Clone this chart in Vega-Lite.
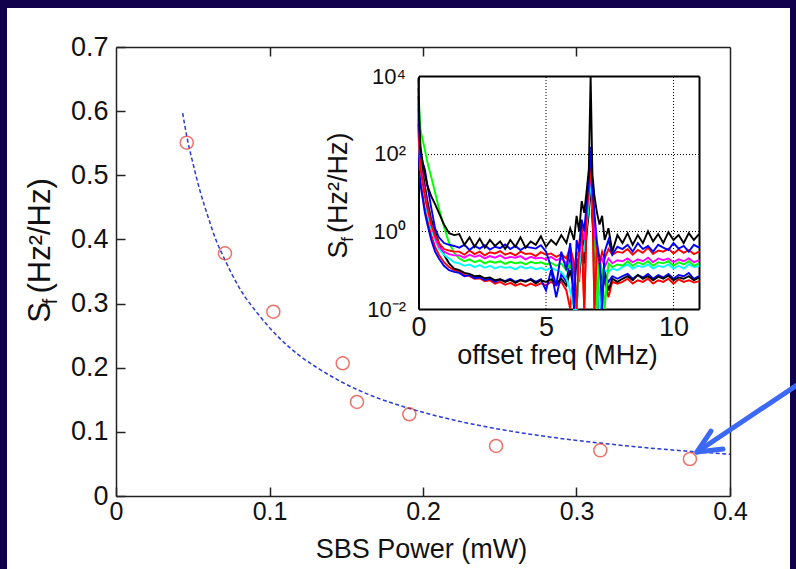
{
"$schema":"https://vega.github.io/schema/vega-lite/v6.json",
"width":783,"height":561,
"autosize":{"type":"none"},
"padding":{"left":7,"top":8,"right":6,"bottom":0},
"background":"#11004b",
"config":{"view":{"fill":"white","stroke":null},"axis":{"labelFlush":false,"labelOverlap":false,"grid":false,"labelColor":"#111","titleColor":"#111","titleFontWeight":"normal","labelFont":"Liberation Sans","titleFont":"Liberation Sans"}},
"datasets":{
"pts":[{"x":0.0461,"y":0.5508},{"x":0.071,"y":0.3784},{"x":0.1025,"y":0.2873},{"x":0.1477,"y":0.2069},{"x":0.157,"y":0.1466},{"x":0.1911,"y":0.1274},{"x":0.2476,"y":0.078},{"x":0.3155,"y":0.0712},{"x":0.3739,"y":0.0577}],
"fit":[{"x":0.04345,"y":0.597},{"x":0.046,"y":0.562},{"x":0.05,"y":0.52},{"x":0.0547,"y":0.476},{"x":0.06,"y":0.435},{"x":0.065,"y":0.4},{"x":0.071,"y":0.368},{"x":0.08,"y":0.326},{"x":0.0938,"y":0.28},{"x":0.107,"y":0.245},{"x":0.12,"y":0.218},{"x":0.133,"y":0.197},{"x":0.146,"y":0.179},{"x":0.1674,"y":0.1555},{"x":0.185,"y":0.141},{"x":0.2065,"y":0.1263},{"x":0.2287,"y":0.1138},{"x":0.2502,"y":0.1039},{"x":0.2717,"y":0.0957},{"x":0.2938,"y":0.0885},{"x":0.3153,"y":0.0826},{"x":0.3368,"y":0.0772},{"x":0.359,"y":0.0724},{"x":0.3805,"y":0.0684},{"x":0.4,"y":0.065}],
"arrow":[{"g":"shaft","o":1,"x":0.4456,"y":0.1762},{"g":"shaft","o":2,"x":0.3785,"y":0.0686},{"g":"head","o":1,"x":0.3876,"y":0.1013},{"g":"head","o":2,"x":0.3785,"y":0.0686},{"g":"head","o":3,"x":0.3954,"y":0.0733}],
"grid":[{"f":5},{"f":10}],
"spec":[
{"s":"r2","f":0,"v":800},{"s":"r2","f":0.03,"v":80},{"s":"r2","f":0.08,"v":20},{"s":"r2","f":0.15,"v":10},{"s":"r2","f":0.25,"v":4},{"s":"r2","f":0.35,"v":2},{"s":"r2","f":0.5,"v":0.8},{"s":"r2","f":0.65,"v":0.4},{"s":"r2","f":0.8,"v":0.25},{"s":"r2","f":1,"v":0.16},{"s":"r2","f":1.2,"v":0.12},{"s":"r2","f":1.4,"v":0.1},
{"s":"r2","f":1.6,"v":0.09},{"s":"r2","f":1.8,"v":0.075},{"s":"r2","f":2,"v":0.07},{"s":"r2","f":2.2,"v":0.06},{"s":"r2","f":2.4,"v":0.062},{"s":"r2","f":2.6,"v":0.052},{"s":"r2","f":2.8,"v":0.055},{"s":"r2","f":3,"v":0.045},{"s":"r2","f":3.2,"v":0.05},{"s":"r2","f":3.4,"v":0.042},{"s":"r2","f":3.6,"v":0.047},{"s":"r2","f":3.8,"v":0.04},{"s":"r2","f":4,"v":0.045},{"s":"r2","f":4.2,"v":0.039},{"s":"r2","f":4.4,"v":0.045},{"s":"r2","f":4.6,"v":0.04},{"s":"r2","f":4.8,"v":0.046},{"s":"r2","f":5,"v":0.041},{"s":"r2","f":5.2,"v":0.05},{"s":"r2","f":5.4,"v":0.04},{"s":"r2","f":5.6,"v":0.05},
{"s":"r2","f":5.8,"v":0.03},{"s":"r2","f":5.95,"v":0.01},{"s":"r2","f":6.1,"v":0.1},{"s":"r2","f":6.2,"v":0.2},{"s":"r2","f":6.3,"v":0.05},{"s":"r2","f":6.4,"v":0.6},{"s":"r2","f":6.5,"v":0.01},{"s":"r2","f":6.6,"v":2},{"s":"r2","f":6.68,"v":6},{"s":"r2","f":6.75,"v":40},{"s":"r2","f":6.82,"v":5},{"s":"r2","f":6.9,"v":0.01},{"s":"r2","f":7,"v":0.15},{"s":"r2","f":7.1,"v":0.01},{"s":"r2","f":7.2,"v":0.03},{"s":"r2","f":7.3,"v":0.06},{"s":"r2","f":7.45,"v":0.02},{"s":"r2","f":7.6,"v":0.05},{"s":"r2","f":7.8,"v":0.045},
{"s":"r2","f":8,"v":0.05},{"s":"r2","f":8.2,"v":0.06},{"s":"r2","f":8.4,"v":0.045},{"s":"r2","f":8.6,"v":0.055},{"s":"r2","f":8.8,"v":0.05},{"s":"r2","f":9,"v":0.06},{"s":"r2","f":9.2,"v":0.045},{"s":"r2","f":9.4,"v":0.055},{"s":"r2","f":9.6,"v":0.05},{"s":"r2","f":9.8,"v":0.06},{"s":"r2","f":10,"v":0.045},{"s":"r2","f":10.2,"v":0.058},{"s":"r2","f":10.4,"v":0.05},{"s":"r2","f":10.6,"v":0.055},{"s":"r2","f":10.8,"v":0.048},{"s":"r2","f":11,"v":0.052},
{"s":"b2","f":0,"v":600},{"s":"b2","f":0.03,"v":60},{"s":"b2","f":0.08,"v":15},{"s":"b2","f":0.15,"v":8},{"s":"b2","f":0.25,"v":3},{"s":"b2","f":0.35,"v":1.5},{"s":"b2","f":0.5,"v":0.6},{"s":"b2","f":0.65,"v":0.3},{"s":"b2","f":0.8,"v":0.2},{"s":"b2","f":1,"v":0.13},{"s":"b2","f":1.2,"v":0.1},{"s":"b2","f":1.4,"v":0.09},
{"s":"b2","f":1.6,"v":0.085},{"s":"b2","f":1.8,"v":0.07},{"s":"b2","f":2,"v":0.075},{"s":"b2","f":2.2,"v":0.062},{"s":"b2","f":2.4,"v":0.065},{"s":"b2","f":2.6,"v":0.056},{"s":"b2","f":2.8,"v":0.06},{"s":"b2","f":3,"v":0.05},{"s":"b2","f":3.2,"v":0.058},{"s":"b2","f":3.4,"v":0.052},{"s":"b2","f":3.6,"v":0.06},{"s":"b2","f":3.8,"v":0.05},{"s":"b2","f":4,"v":0.057},{"s":"b2","f":4.2,"v":0.052},{"s":"b2","f":4.4,"v":0.06},{"s":"b2","f":4.6,"v":0.05},{"s":"b2","f":4.8,"v":0.058},{"s":"b2","f":5,"v":0.03},{"s":"b2","f":5.2,"v":0.1},{"s":"b2","f":5.4,"v":0.02},{"s":"b2","f":5.6,"v":0.08},
{"s":"b2","f":5.8,"v":0.05},{"s":"b2","f":5.95,"v":0.2},{"s":"b2","f":6.1,"v":0.04},{"s":"b2","f":6.2,"v":0.01},{"s":"b2","f":6.3,"v":0.15},{"s":"b2","f":6.4,"v":0.8},{"s":"b2","f":6.5,"v":0.4},{"s":"b2","f":6.6,"v":3},{"s":"b2","f":6.68,"v":8},{"s":"b2","f":6.75,"v":100},{"s":"b2","f":6.82,"v":6},{"s":"b2","f":6.9,"v":0.5},{"s":"b2","f":7,"v":0.1},{"s":"b2","f":7.1,"v":0.01},{"s":"b2","f":7.2,"v":0.02},{"s":"b2","f":7.3,"v":0.08},{"s":"b2","f":7.45,"v":0.05},{"s":"b2","f":7.6,"v":0.07},{"s":"b2","f":7.8,"v":0.06},
{"s":"b2","f":8,"v":0.07},{"s":"b2","f":8.2,"v":0.08},{"s":"b2","f":8.4,"v":0.06},{"s":"b2","f":8.6,"v":0.075},{"s":"b2","f":8.8,"v":0.065},{"s":"b2","f":9,"v":0.08},{"s":"b2","f":9.2,"v":0.06},{"s":"b2","f":9.4,"v":0.075},{"s":"b2","f":9.6,"v":0.065},{"s":"b2","f":9.8,"v":0.08},{"s":"b2","f":10,"v":0.06},{"s":"b2","f":10.2,"v":0.075},{"s":"b2","f":10.4,"v":0.07},{"s":"b2","f":10.6,"v":0.085},{"s":"b2","f":10.8,"v":0.06},{"s":"b2","f":11,"v":0.07},
{"s":"k2","f":0,"v":5000},{"s":"k2","f":0.03,"v":500},{"s":"k2","f":0.08,"v":80},{"s":"k2","f":0.15,"v":40},{"s":"k2","f":0.25,"v":15},{"s":"k2","f":0.35,"v":6},{"s":"k2","f":0.5,"v":2},{"s":"k2","f":0.65,"v":1},{"s":"k2","f":0.8,"v":0.5},{"s":"k2","f":1,"v":0.25},{"s":"k2","f":1.2,"v":0.15},{"s":"k2","f":1.4,"v":0.11},
{"s":"k2","f":1.6,"v":0.1},{"s":"k2","f":1.8,"v":0.085},{"s":"k2","f":2,"v":0.08},{"s":"k2","f":2.2,"v":0.07},{"s":"k2","f":2.4,"v":0.072},{"s":"k2","f":2.6,"v":0.062},{"s":"k2","f":2.8,"v":0.065},{"s":"k2","f":3,"v":0.055},{"s":"k2","f":3.2,"v":0.058},{"s":"k2","f":3.4,"v":0.05},{"s":"k2","f":3.6,"v":0.056},{"s":"k2","f":3.8,"v":0.047},{"s":"k2","f":4,"v":0.055},{"s":"k2","f":4.2,"v":0.05},{"s":"k2","f":4.4,"v":0.057},{"s":"k2","f":4.6,"v":0.046},{"s":"k2","f":4.8,"v":0.055},{"s":"k2","f":5,"v":0.05},{"s":"k2","f":5.2,"v":0.058},{"s":"k2","f":5.4,"v":0.045},{"s":"k2","f":5.6,"v":0.06},
{"s":"k2","f":5.8,"v":0.04},{"s":"k2","f":5.95,"v":0.1},{"s":"k2","f":6.1,"v":0.03},{"s":"k2","f":6.2,"v":0.2},{"s":"k2","f":6.3,"v":0.08},{"s":"k2","f":6.4,"v":0.4},{"s":"k2","f":6.5,"v":0.15},{"s":"k2","f":6.6,"v":1},{"s":"k2","f":6.68,"v":3},{"s":"k2","f":6.75,"v":20},{"s":"k2","f":6.82,"v":2},{"s":"k2","f":6.9,"v":0.3},{"s":"k2","f":7,"v":0.08},{"s":"k2","f":7.1,"v":0.15},{"s":"k2","f":7.2,"v":0.04},{"s":"k2","f":7.3,"v":0.1},{"s":"k2","f":7.45,"v":0.03},{"s":"k2","f":7.6,"v":0.06},{"s":"k2","f":7.8,"v":0.05},
{"s":"k2","f":8,"v":0.06},{"s":"k2","f":8.2,"v":0.07},{"s":"k2","f":8.4,"v":0.055},{"s":"k2","f":8.6,"v":0.075},{"s":"k2","f":8.8,"v":0.06},{"s":"k2","f":9,"v":0.07},{"s":"k2","f":9.2,"v":0.055},{"s":"k2","f":9.4,"v":0.068},{"s":"k2","f":9.6,"v":0.06},{"s":"k2","f":9.8,"v":0.072},{"s":"k2","f":10,"v":0.055},{"s":"k2","f":10.2,"v":0.065},{"s":"k2","f":10.4,"v":0.06},{"s":"k2","f":10.6,"v":0.07},{"s":"k2","f":10.8,"v":0.055},{"s":"k2","f":11,"v":0.065},
{"s":"c1","f":0,"v":1000},{"s":"c1","f":0.03,"v":150},{"s":"c1","f":0.08,"v":40},{"s":"c1","f":0.15,"v":20},{"s":"c1","f":0.25,"v":8},{"s":"c1","f":0.35,"v":3},{"s":"c1","f":0.5,"v":1.2},{"s":"c1","f":0.65,"v":0.6},{"s":"c1","f":0.8,"v":0.35},{"s":"c1","f":1,"v":0.25},{"s":"c1","f":1.2,"v":0.2},{"s":"c1","f":1.4,"v":0.16},
{"s":"c1","f":1.6,"v":0.15},{"s":"c1","f":1.8,"v":0.13},{"s":"c1","f":2,"v":0.14},{"s":"c1","f":2.2,"v":0.12},{"s":"c1","f":2.4,"v":0.135},{"s":"c1","f":2.6,"v":0.115},{"s":"c1","f":2.8,"v":0.13},{"s":"c1","f":3,"v":0.11},{"s":"c1","f":3.2,"v":0.125},{"s":"c1","f":3.4,"v":0.115},{"s":"c1","f":3.6,"v":0.12},{"s":"c1","f":3.8,"v":0.105},{"s":"c1","f":4,"v":0.125},{"s":"c1","f":4.2,"v":0.11},{"s":"c1","f":4.4,"v":0.12},{"s":"c1","f":4.6,"v":0.105},{"s":"c1","f":4.8,"v":0.115},{"s":"c1","f":5,"v":0.1},{"s":"c1","f":5.2,"v":0.115},{"s":"c1","f":5.4,"v":0.1},{"s":"c1","f":5.6,"v":0.09},
{"s":"c1","f":5.8,"v":0.06},{"s":"c1","f":5.95,"v":0.03},{"s":"c1","f":6.1,"v":0.01},{"s":"c1","f":6.2,"v":0.01},{"s":"c1","f":6.3,"v":0.1},{"s":"c1","f":6.4,"v":0.5},{"s":"c1","f":6.5,"v":0.3},{"s":"c1","f":6.6,"v":1.5},{"s":"c1","f":6.68,"v":5},{"s":"c1","f":6.75,"v":30},{"s":"c1","f":6.82,"v":4},{"s":"c1","f":6.9,"v":0.5},{"s":"c1","f":7,"v":0.2},{"s":"c1","f":7.1,"v":0.01},{"s":"c1","f":7.2,"v":0.05},{"s":"c1","f":7.3,"v":0.1},{"s":"c1","f":7.45,"v":0.09},{"s":"c1","f":7.6,"v":0.11},{"s":"c1","f":7.8,"v":0.1},
{"s":"c1","f":8,"v":0.12},{"s":"c1","f":8.2,"v":0.14},{"s":"c1","f":8.4,"v":0.11},{"s":"c1","f":8.6,"v":0.13},{"s":"c1","f":8.8,"v":0.12},{"s":"c1","f":9,"v":0.14},{"s":"c1","f":9.2,"v":0.11},{"s":"c1","f":9.4,"v":0.13},{"s":"c1","f":9.6,"v":0.12},{"s":"c1","f":9.8,"v":0.14},{"s":"c1","f":10,"v":0.11},{"s":"c1","f":10.2,"v":0.13},{"s":"c1","f":10.4,"v":0.11},{"s":"c1","f":10.6,"v":0.14},{"s":"c1","f":10.8,"v":0.12},{"s":"c1","f":11,"v":0.13},
{"s":"g1","f":0,"v":8000},{"s":"g1","f":0.03,"v":1500},{"s":"g1","f":0.08,"v":400},{"s":"g1","f":0.15,"v":250},{"s":"g1","f":0.25,"v":125},{"s":"g1","f":0.35,"v":60},{"s":"g1","f":0.5,"v":25},{"s":"g1","f":0.65,"v":10},{"s":"g1","f":0.8,"v":4},{"s":"g1","f":1,"v":1.3},{"s":"g1","f":1.2,"v":0.5},{"s":"g1","f":1.4,"v":0.28},
{"s":"g1","f":1.6,"v":0.2},{"s":"g1","f":1.8,"v":0.17},{"s":"g1","f":2,"v":0.19},{"s":"g1","f":2.2,"v":0.16},{"s":"g1","f":2.4,"v":0.18},{"s":"g1","f":2.6,"v":0.15},{"s":"g1","f":2.8,"v":0.17},{"s":"g1","f":3,"v":0.155},{"s":"g1","f":3.2,"v":0.17},{"s":"g1","f":3.4,"v":0.145},{"s":"g1","f":3.6,"v":0.165},{"s":"g1","f":3.8,"v":0.15},{"s":"g1","f":4,"v":0.16},{"s":"g1","f":4.2,"v":0.14},{"s":"g1","f":4.4,"v":0.165},{"s":"g1","f":4.6,"v":0.15},{"s":"g1","f":4.8,"v":0.16},{"s":"g1","f":5,"v":0.14},{"s":"g1","f":5.2,"v":0.155},{"s":"g1","f":5.4,"v":0.13},{"s":"g1","f":5.6,"v":0.15},
{"s":"g1","f":5.8,"v":0.1},{"s":"g1","f":5.95,"v":0.15},{"s":"g1","f":6.1,"v":0.05},{"s":"g1","f":6.2,"v":0.01},{"s":"g1","f":6.3,"v":0.3},{"s":"g1","f":6.4,"v":0.8},{"s":"g1","f":6.5,"v":1.5},{"s":"g1","f":6.6,"v":2},{"s":"g1","f":6.68,"v":8},{"s":"g1","f":6.75,"v":80},{"s":"g1","f":6.82,"v":10},{"s":"g1","f":6.9,"v":1},{"s":"g1","f":7,"v":0.01},{"s":"g1","f":7.1,"v":0.2},{"s":"g1","f":7.2,"v":0.1},{"s":"g1","f":7.3,"v":0.01},{"s":"g1","f":7.45,"v":0.15},{"s":"g1","f":7.6,"v":0.12},{"s":"g1","f":7.8,"v":0.14},
{"s":"g1","f":8,"v":0.13},{"s":"g1","f":8.2,"v":0.17},{"s":"g1","f":8.4,"v":0.13},{"s":"g1","f":8.6,"v":0.16},{"s":"g1","f":8.8,"v":0.14},{"s":"g1","f":9,"v":0.17},{"s":"g1","f":9.2,"v":0.13},{"s":"g1","f":9.4,"v":0.16},{"s":"g1","f":9.6,"v":0.15},{"s":"g1","f":9.8,"v":0.17},{"s":"g1","f":10,"v":0.13},{"s":"g1","f":10.2,"v":0.16},{"s":"g1","f":10.4,"v":0.14},{"s":"g1","f":10.6,"v":0.17},{"s":"g1","f":10.8,"v":0.13},{"s":"g1","f":11,"v":0.15},
{"s":"m1","f":0,"v":2000},{"s":"m1","f":0.03,"v":200},{"s":"m1","f":0.08,"v":50},{"s":"m1","f":0.15,"v":25},{"s":"m1","f":0.25,"v":10},{"s":"m1","f":0.35,"v":4},{"s":"m1","f":0.5,"v":1.5},{"s":"m1","f":0.65,"v":0.7},{"s":"m1","f":0.8,"v":0.4},{"s":"m1","f":1,"v":0.3},{"s":"m1","f":1.2,"v":0.26},{"s":"m1","f":1.4,"v":0.24},
{"s":"m1","f":1.6,"v":0.24},{"s":"m1","f":1.8,"v":0.21},{"s":"m1","f":2,"v":0.25},{"s":"m1","f":2.2,"v":0.22},{"s":"m1","f":2.4,"v":0.24},{"s":"m1","f":2.6,"v":0.2},{"s":"m1","f":2.8,"v":0.23},{"s":"m1","f":3,"v":0.21},{"s":"m1","f":3.2,"v":0.24},{"s":"m1","f":3.4,"v":0.2},{"s":"m1","f":3.6,"v":0.22},{"s":"m1","f":3.8,"v":0.21},{"s":"m1","f":4,"v":0.23},{"s":"m1","f":4.2,"v":0.19},{"s":"m1","f":4.4,"v":0.22},{"s":"m1","f":4.6,"v":0.2},{"s":"m1","f":4.8,"v":0.21},{"s":"m1","f":5,"v":0.19},{"s":"m1","f":5.2,"v":0.22},{"s":"m1","f":5.4,"v":0.18},{"s":"m1","f":5.6,"v":0.2},
{"s":"m1","f":5.8,"v":0.15},{"s":"m1","f":5.95,"v":0.25},{"s":"m1","f":6.1,"v":0.1},{"s":"m1","f":6.2,"v":0.3},{"s":"m1","f":6.3,"v":0.2},{"s":"m1","f":6.4,"v":1.2},{"s":"m1","f":6.5,"v":0.6},{"s":"m1","f":6.6,"v":3},{"s":"m1","f":6.68,"v":10},{"s":"m1","f":6.75,"v":50},{"s":"m1","f":6.82,"v":6},{"s":"m1","f":6.9,"v":1},{"s":"m1","f":7,"v":0.3},{"s":"m1","f":7.1,"v":0.15},{"s":"m1","f":7.2,"v":0.2},{"s":"m1","f":7.3,"v":0.12},{"s":"m1","f":7.45,"v":0.2},{"s":"m1","f":7.6,"v":0.15},{"s":"m1","f":7.8,"v":0.18},
{"s":"m1","f":8,"v":0.17},{"s":"m1","f":8.2,"v":0.2},{"s":"m1","f":8.4,"v":0.16},{"s":"m1","f":8.6,"v":0.19},{"s":"m1","f":8.8,"v":0.17},{"s":"m1","f":9,"v":0.21},{"s":"m1","f":9.2,"v":0.16},{"s":"m1","f":9.4,"v":0.2},{"s":"m1","f":9.6,"v":0.18},{"s":"m1","f":9.8,"v":0.2},{"s":"m1","f":10,"v":0.16},{"s":"m1","f":10.2,"v":0.19},{"s":"m1","f":10.4,"v":0.17},{"s":"m1","f":10.6,"v":0.2},{"s":"m1","f":10.8,"v":0.16},{"s":"m1","f":11,"v":0.18},
{"s":"r1","f":0,"v":1500},{"s":"r1","f":0.03,"v":150},{"s":"r1","f":0.08,"v":40},{"s":"r1","f":0.15,"v":20},{"s":"r1","f":0.25,"v":8},{"s":"r1","f":0.35,"v":4},{"s":"r1","f":0.5,"v":1.5},{"s":"r1","f":0.65,"v":0.8},{"s":"r1","f":0.8,"v":0.5},{"s":"r1","f":1,"v":0.35},{"s":"r1","f":1.2,"v":0.32},{"s":"r1","f":1.4,"v":0.3},
{"s":"r1","f":1.6,"v":0.3},{"s":"r1","f":1.8,"v":0.25},{"s":"r1","f":2,"v":0.32},{"s":"r1","f":2.2,"v":0.26},{"s":"r1","f":2.4,"v":0.3},{"s":"r1","f":2.6,"v":0.24},{"s":"r1","f":2.8,"v":0.29},{"s":"r1","f":3,"v":0.27},{"s":"r1","f":3.2,"v":0.31},{"s":"r1","f":3.4,"v":0.25},{"s":"r1","f":3.6,"v":0.28},{"s":"r1","f":3.8,"v":0.24},{"s":"r1","f":4,"v":0.3},{"s":"r1","f":4.2,"v":0.26},{"s":"r1","f":4.4,"v":0.27},{"s":"r1","f":4.6,"v":0.23},{"s":"r1","f":4.8,"v":0.29},{"s":"r1","f":5,"v":0.25},{"s":"r1","f":5.2,"v":0.27},{"s":"r1","f":5.4,"v":0.22},{"s":"r1","f":5.6,"v":0.26},
{"s":"r1","f":5.8,"v":0.2},{"s":"r1","f":5.95,"v":0.4},{"s":"r1","f":6.1,"v":0.15},{"s":"r1","f":6.2,"v":0.01},{"s":"r1","f":6.3,"v":0.5},{"s":"r1","f":6.4,"v":1.5},{"s":"r1","f":6.5,"v":0.01},{"s":"r1","f":6.6,"v":4},{"s":"r1","f":6.68,"v":12},{"s":"r1","f":6.75,"v":60},{"s":"r1","f":6.82,"v":8},{"s":"r1","f":6.9,"v":0.01},{"s":"r1","f":7,"v":0.4},{"s":"r1","f":7.1,"v":0.15},{"s":"r1","f":7.2,"v":0.3},{"s":"r1","f":7.3,"v":0.2},{"s":"r1","f":7.45,"v":0.35},{"s":"r1","f":7.6,"v":0.25},{"s":"r1","f":7.8,"v":0.3},
{"s":"r1","f":8,"v":0.28},{"s":"r1","f":8.2,"v":0.35},{"s":"r1","f":8.4,"v":0.25},{"s":"r1","f":8.6,"v":0.33},{"s":"r1","f":8.8,"v":0.28},{"s":"r1","f":9,"v":0.38},{"s":"r1","f":9.2,"v":0.26},{"s":"r1","f":9.4,"v":0.32},{"s":"r1","f":9.6,"v":0.3},{"s":"r1","f":9.8,"v":0.36},{"s":"r1","f":10,"v":0.27},{"s":"r1","f":10.2,"v":0.34},{"s":"r1","f":10.4,"v":0.28},{"s":"r1","f":10.6,"v":0.33},{"s":"r1","f":10.8,"v":0.26},{"s":"r1","f":11,"v":0.3},
{"s":"b1","f":0,"v":3000},{"s":"b1","f":0.03,"v":400},{"s":"b1","f":0.08,"v":100},{"s":"b1","f":0.15,"v":60},{"s":"b1","f":0.25,"v":40},{"s":"b1","f":0.35,"v":15},{"s":"b1","f":0.5,"v":4},{"s":"b1","f":0.65,"v":1.2},{"s":"b1","f":0.8,"v":0.7},{"s":"b1","f":1,"v":0.5},{"s":"b1","f":1.2,"v":0.45},{"s":"b1","f":1.4,"v":0.42},
{"s":"b1","f":1.6,"v":0.38},{"s":"b1","f":1.8,"v":0.45},{"s":"b1","f":2,"v":0.33},{"s":"b1","f":2.2,"v":0.42},{"s":"b1","f":2.4,"v":0.36},{"s":"b1","f":2.6,"v":0.44},{"s":"b1","f":2.8,"v":0.34},{"s":"b1","f":3,"v":0.4},{"s":"b1","f":3.2,"v":0.37},{"s":"b1","f":3.4,"v":0.46},{"s":"b1","f":3.6,"v":0.35},{"s":"b1","f":3.8,"v":0.42},{"s":"b1","f":4,"v":0.33},{"s":"b1","f":4.2,"v":0.4},{"s":"b1","f":4.4,"v":0.38},{"s":"b1","f":4.6,"v":0.36},{"s":"b1","f":4.8,"v":0.44},{"s":"b1","f":5,"v":0.3},{"s":"b1","f":5.2,"v":0.12},{"s":"b1","f":5.4,"v":0.04},{"s":"b1","f":5.6,"v":0.3},
{"s":"b1","f":5.8,"v":0.1},{"s":"b1","f":5.95,"v":0.5},{"s":"b1","f":6.1,"v":0.01},{"s":"b1","f":6.2,"v":0.6},{"s":"b1","f":6.3,"v":0.3},{"s":"b1","f":6.4,"v":2},{"s":"b1","f":6.5,"v":1},{"s":"b1","f":6.6,"v":6},{"s":"b1","f":6.68,"v":20},{"s":"b1","f":6.75,"v":150},{"s":"b1","f":6.82,"v":15},{"s":"b1","f":6.9,"v":3},{"s":"b1","f":7,"v":0.5},{"s":"b1","f":7.1,"v":0.2},{"s":"b1","f":7.2,"v":0.01},{"s":"b1","f":7.3,"v":0.3},{"s":"b1","f":7.45,"v":0.6},{"s":"b1","f":7.6,"v":0.25},{"s":"b1","f":7.8,"v":0.4},
{"s":"b1","f":8,"v":0.35},{"s":"b1","f":8.2,"v":0.45},{"s":"b1","f":8.4,"v":0.3},{"s":"b1","f":8.6,"v":0.5},{"s":"b1","f":8.8,"v":0.35},{"s":"b1","f":9,"v":0.42},{"s":"b1","f":9.2,"v":0.3},{"s":"b1","f":9.4,"v":0.45},{"s":"b1","f":9.6,"v":0.38},{"s":"b1","f":9.8,"v":0.33},{"s":"b1","f":10,"v":0.5},{"s":"b1","f":10.2,"v":0.36},{"s":"b1","f":10.4,"v":0.42},{"s":"b1","f":10.6,"v":0.3},{"s":"b1","f":10.8,"v":0.45},{"s":"b1","f":11,"v":0.38},
{"s":"k1","f":0,"v":9000},{"s":"k1","f":0.03,"v":800},{"s":"k1","f":0.08,"v":150},{"s":"k1","f":0.15,"v":70},{"s":"k1","f":0.25,"v":30},{"s":"k1","f":0.35,"v":15},{"s":"k1","f":0.5,"v":8},{"s":"k1","f":0.65,"v":5},{"s":"k1","f":0.8,"v":3},{"s":"k1","f":1,"v":1.5},{"s":"k1","f":1.2,"v":0.9},{"s":"k1","f":1.4,"v":0.8},
{"s":"k1","f":1.6,"v":0.85},{"s":"k1","f":1.8,"v":0.45},{"s":"k1","f":2,"v":0.7},{"s":"k1","f":2.2,"v":0.4},{"s":"k1","f":2.4,"v":0.65},{"s":"k1","f":2.6,"v":0.38},{"s":"k1","f":2.8,"v":0.6},{"s":"k1","f":3,"v":0.42},{"s":"k1","f":3.2,"v":0.55},{"s":"k1","f":3.4,"v":0.35},{"s":"k1","f":3.6,"v":0.6},{"s":"k1","f":3.8,"v":0.4},{"s":"k1","f":4,"v":0.7},{"s":"k1","f":4.2,"v":0.38},{"s":"k1","f":4.4,"v":0.55},{"s":"k1","f":4.6,"v":0.45},{"s":"k1","f":4.8,"v":0.75},{"s":"k1","f":5,"v":0.4},{"s":"k1","f":5.2,"v":0.6},{"s":"k1","f":5.4,"v":0.45},{"s":"k1","f":5.6,"v":0.8},
{"s":"k1","f":5.8,"v":0.5},{"s":"k1","f":5.95,"v":1.2},{"s":"k1","f":6.1,"v":0.6},{"s":"k1","f":6.2,"v":2.5},{"s":"k1","f":6.3,"v":1},{"s":"k1","f":6.4,"v":6},{"s":"k1","f":6.5,"v":3},{"s":"k1","f":6.6,"v":12},{"s":"k1","f":6.68,"v":40},{"s":"k1","f":6.75,"v":10000},{"s":"k1","f":6.82,"v":30},{"s":"k1","f":6.9,"v":8},{"s":"k1","f":7,"v":3},{"s":"k1","f":7.1,"v":1.5},{"s":"k1","f":7.2,"v":2.5},{"s":"k1","f":7.3,"v":0.6},{"s":"k1","f":7.45,"v":1.2},{"s":"k1","f":7.6,"v":0.3},{"s":"k1","f":7.8,"v":0.8},
{"s":"k1","f":8,"v":0.5},{"s":"k1","f":8.2,"v":0.9},{"s":"k1","f":8.4,"v":0.45},{"s":"k1","f":8.6,"v":0.8},{"s":"k1","f":8.8,"v":0.5},{"s":"k1","f":9,"v":1},{"s":"k1","f":9.2,"v":0.55},{"s":"k1","f":9.4,"v":0.85},{"s":"k1","f":9.6,"v":0.5},{"s":"k1","f":9.8,"v":0.95},{"s":"k1","f":10,"v":0.6},{"s":"k1","f":10.2,"v":0.8},{"s":"k1","f":10.4,"v":0.5},{"s":"k1","f":10.6,"v":0.9},{"s":"k1","f":10.8,"v":0.6},{"s":"k1","f":11,"v":0.85}
]},
"layer":[
{"data":{"name":"fit"},
 "mark":{"type":"line","color":"#2a3bd8","strokeWidth":1.5,"strokeDash":[4,2.5],"interpolate":"monotone"},
 "encoding":{
  "x":{"field":"x","type":"quantitative","scale":{"domain":[0,0.4],"range":[109,723],"nice":false,"zero":false},
   "axis":{"orient":"bottom","offset":-73,"values":[0,0.1,0.2,0.3,0.4],"labelExpr":"datum.value==0?'0':format(datum.value,'.1f')","tickSize":-9,"labelPadding":12,"labelFontSize":25,"domainColor":"#222","domainWidth":1.5,"tickColor":"#222","tickWidth":1.5,"title":"SBS Power (mW)","titleFontSize":27,"titleX":414,"titleY":53,"titleBaseline":"middle","titleAlign":"center"}},
  "y":{"field":"y","type":"quantitative","scale":{"domain":[0,0.7],"range":[488,39],"nice":false,"zero":false},
   "axis":{"orient":"left","offset":-109,"values":[0,0.1,0.2,0.3,0.4,0.5,0.6,0.7],"labelExpr":"datum.value==0?'0':format(datum.value,'.1f')","tickSize":-9,"labelPadding":17,"labelFontSize":27,"domainColor":"#222","domainWidth":1.5,"tickColor":"#222","tickWidth":1.5,"title":"S  (Hz²/Hz)","titleFontSize":31,"titleAngle":270,"titleX":-76,"titleY":242,"titleBaseline":"middle","titleAlign":"center"}}
 }},
{"data":{"name":"pts"},
 "mark":{"type":"point","shape":"circle","filled":false,"size":170,"strokeWidth":1.5,"color":"#e6392c"},
 "encoding":{
  "x":{"field":"x","type":"quantitative","scale":{"domain":[0,0.4],"range":[109,723],"nice":false,"zero":false},"axis":null},
  "y":{"field":"y","type":"quantitative","scale":{"domain":[0,0.7],"range":[488,39],"nice":false,"zero":false},
   "axis":{"orient":"left","offset":0,"domain":false,"ticks":false,"labels":false,"title":"f","titleFontSize":20,"titleAngle":270,"titleX":43,"titleY":293,"titleBaseline":"middle","titleAlign":"center"}}
 }},
{"data":{"name":"arrow"},
 "mark":{"type":"line","color":"#3b68f4","strokeWidth":5,"strokeCap":"round","strokeJoin":"round"},
 "encoding":{
  "x":{"field":"x","type":"quantitative","scale":{"domain":[0,0.4],"range":[109,723],"nice":false,"zero":false},"axis":null},
  "y":{"field":"y","type":"quantitative","scale":{"domain":[0,0.7],"range":[488,39],"nice":false,"zero":false},
   "axis":{"orient":"left","offset":0,"domain":false,"ticks":false,"labels":false,"title":"f","titleFontSize":17,"titleAngle":270,"titleX":340,"titleY":231,"titleBaseline":"middle","titleAlign":"center"}},
  "detail":{"field":"g"},
  "order":{"field":"o","type":"quantitative"}
 }},
{"data":{"name":"pts"},
 "mark":{"type":"point","opacity":0},
 "encoding":{
  "x":{"field":"x","type":"quantitative","scale":{"domain":[0,0.4],"range":[109,723],"nice":false,"zero":false},
   "axis":{"orient":"top","offset":-39,"values":[0.1,0.2,0.3],"tickSize":-9,"labels":false,"title":null,"domainColor":"#222","domainWidth":1.5,"tickColor":"#222","tickWidth":1.5}},
  "y":{"field":"y","type":"quantitative","scale":{"domain":[0,0.7],"range":[488,39],"nice":false,"zero":false},
   "axis":{"orient":"right","offset":-60,"ticks":false,"labels":false,"title":null,"domainColor":"#222","domainWidth":1.5}}
 }},
{"data":{"name":"grid"},
 "mark":{"type":"rule","color":"#000","strokeWidth":1,"strokeDash":[1,2]},
 "encoding":{
  "x":{"field":"f","type":"quantitative","scale":{"domain":[0,11],"range":[411.5,692],"nice":false,"zero":false},"axis":null},
  "y":{"datum":0.01,"type":"quantitative","scale":{"type":"log","domain":[0.01,10000],"range":[301,68],"nice":false},"axis":null},
  "y2":{"datum":10000}
 }},
{"data":{"name":"spec"},
 "mark":{"type":"line","strokeWidth":1.9,"interpolate":"linear"},
 "encoding":{
  "x":{"field":"f","type":"quantitative","scale":{"domain":[0,11],"range":[411.5,692],"nice":false,"zero":false},
   "axis":{"orient":"bottom","offset":-260,"values":[0,5,10],"ticks":false,"labelPadding":5,"labelFontSize":27,"domainColor":"#000","domainWidth":2,"title":"offset freq (MHz)","titleFontSize":27,"titleX":550,"titleY":46,"titleBaseline":"middle","titleAlign":"center"}},
  "y":{"field":"v","type":"quantitative","scale":{"type":"log","domain":[0.01,10000],"range":[301,68],"nice":false},
   "axis":{"orient":"left","offset":-411.5,"values":[0.01,1,100,10000],"labelExpr":"datum.value<0.1?'10⁻²':datum.value<10?'10⁰':datum.value<1000?'10²':'10⁴'","ticks":false,"labelPadding":13,"labelFontSize":22,"grid":true,"gridColor":"#000","gridDash":[1,2],"gridWidth":1,"domainColor":"#000","domainWidth":2,"title":"S  (Hz²/Hz)","titleFontSize":27,"titleAngle":270,"titleX":-80.5,"titleY":187,"titleBaseline":"middle","titleAlign":"center"}},
  "color":{"field":"s","type":"nominal","legend":null,"scale":{"domain":["r2","b2","k2","c1","g1","m1","r1","b1","k1"],"range":["#ff0000","#0000ff","#000000","#00ffff","#00ff00","#ff00ff","#ff0000","#0000ff","#000000"]}}
 }},
{"data":{"name":"pts"},
 "mark":{"type":"point","opacity":0},
 "encoding":{
  "x":{"field":"x","type":"quantitative","scale":{"domain":[0,11],"range":[411.5,692],"nice":false,"zero":false},
   "axis":{"orient":"top","offset":-68,"ticks":false,"labels":false,"title":null,"domainColor":"#000","domainWidth":2}},
  "y":{"field":"y","type":"quantitative","scale":{"type":"log","domain":[0.01,10000],"range":[301,68],"nice":false},
   "axis":{"orient":"right","offset":-91,"ticks":false,"labels":false,"title":null,"domainColor":"#000","domainWidth":2}}
 }}
],
"resolve":{"scale":{"x":"independent","y":"independent"},"axis":{"x":"independent","y":"independent"}}
}
